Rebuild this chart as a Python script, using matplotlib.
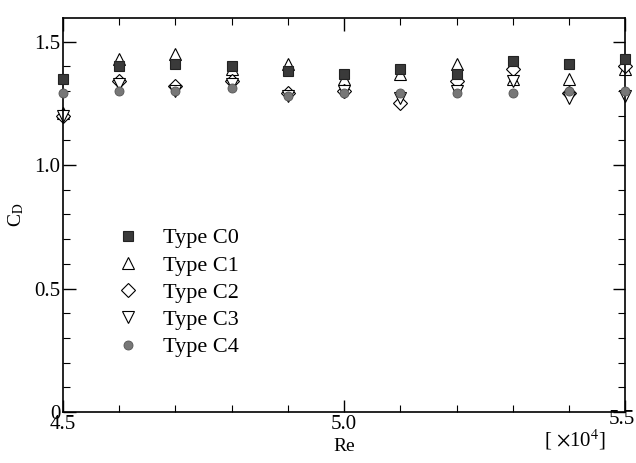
import matplotlib
matplotlib.use("Agg")
import matplotlib.pyplot as plt
from matplotlib.ticker import MultipleLocator, FixedFormatter, FixedLocator

plt.rcParams['font.family'] = ['Liberation Serif', 'DejaVu Serif']
plt.rcParams['mathtext.fontset'] = 'stix'

re_vals = [4.5, 4.6, 4.7, 4.8, 4.9, 5.0, 5.1, 5.2, 5.3, 5.4, 5.5]
c0 = [1.35, 1.40, 1.41, 1.40, 1.38, 1.37, 1.39, 1.37, 1.42, 1.41, 1.43]
c1 = [1.21, 1.43, 1.45, 1.39, 1.41, 1.35, 1.37, 1.41, 1.35, 1.35, 1.39]
c2 = [1.20, 1.34, 1.32, 1.34, 1.29, 1.30, 1.25, 1.34, 1.39, 1.29, 1.40]
c3 = [1.20, 1.33, 1.30, 1.33, 1.28, 1.30, 1.27, 1.30, 1.34, 1.27, 1.28]
c4 = [1.29, 1.30, 1.30, 1.31, 1.28, 1.29, 1.29, 1.29, 1.29, 1.30, 1.30]
labels = ["Type C0", "Type C1", "Type C2", "Type C3", "Type C4"]
x_ticks = [4.5, 5.0, 5.5]
x_ticklabels = ["4.5", "5.0", ""]
last_xlabel = "5.5"
y_ticks = [0, 0.5, 1.0, 1.5]
y_ticklabels = ["0", "0.5", "1.0", "1.5"]

fig = plt.figure(figsize=(6.36, 4.63), dpi=100)
ax = fig.add_axes([0.099, 0.110, 0.884, 0.851])

ax.plot(re_vals, c0, 's', ms=7.5, mfc='#3a3a3a', mec='#222222', mew=0.8, label=labels[0], clip_on=False, zorder=3)
ax.plot(re_vals, c1, '^', ms=8.5, mfc='white', mec='black', mew=0.8, label=labels[1], clip_on=False, zorder=2)
ax.plot(re_vals, c2, 'D', ms=7.5, mfc='white', mec='black', mew=0.8, label=labels[2], clip_on=False, zorder=2)
ax.plot(re_vals, c3, 'v', ms=8.5, mfc='white', mec='black', mew=0.8, label=labels[3], clip_on=False, zorder=2)
ax.plot(re_vals, c4, 'o', ms=6.5, mfc='#777777', mec='#555555', mew=0.6, label=labels[4], clip_on=False, zorder=4)

ax.set_xlim(4.5, 5.5)
ax.set_ylim(0, 1.595)
ax.xaxis.set_major_locator(FixedLocator(x_ticks))
ax.xaxis.set_major_formatter(FixedFormatter(x_ticklabels))
ax.xaxis.set_minor_locator(MultipleLocator(0.1))
ax.yaxis.set_major_locator(FixedLocator(y_ticks))
ax.yaxis.set_major_formatter(FixedFormatter(y_ticklabels))
ax.yaxis.set_minor_locator(MultipleLocator(0.1))
ax.tick_params(which='both', direction='in', top=True, right=True, labelsize=15)
ax.tick_params(axis='x', which='major', pad=2)
ax.tick_params(axis='y', which='major', pad=2)
ax.tick_params(which='major', length=9, width=1)
ax.tick_params(which='minor', length=5, width=0.8)
for s in ax.spines.values():
    s.set_linewidth(1.2)

fig.text(0.998, 0.094, last_xlabel, fontsize=15, ha='right', va='center')

ax.set_xlabel("Re", fontsize=14, labelpad=3)
ax.set_ylabel(r"C$_{\mathrm{D}}$", fontsize=14, labelpad=6)
fig.text(0.905, 0.05, r"[ $\times$10$^4$]", fontsize=15, ha='center', va='center')

leg = ax.legend(loc='upper left', bbox_to_anchor=(0.06, 0.49), frameon=False,
                fontsize=16, handletextpad=0.6, labelspacing=0.3, borderaxespad=0)

fig.savefig("out.png", dpi=100)
